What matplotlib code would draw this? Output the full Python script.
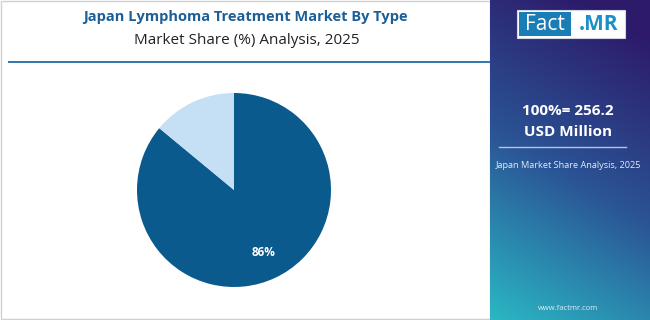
import numpy as np
import matplotlib
matplotlib.use("Agg")
from matplotlib import pyplot as plt
from matplotlib.patches import Rectangle

# Data
segments = ["Type A", "Type B"]
shares = [86, 14]
labels = ["86%", ""]
colors = ["#0b5a8e", "#c5e0f4"]

title = "Japan Lymphoma Treatment Market By Type"
subtitle = "Market Share (%) Analysis, 2025"
total_text = "100%= 256.2"
unit_text = "USD Million"
side_caption = "Japan Market Share Analysis, 2025"
site = "www.factmr.com"

W, H = 650, 320
fig = plt.figure(figsize=(W / 100, H / 100), dpi=100)
fig.patch.set_facecolor("white")

# background canvas in pixel coords
bg = fig.add_axes([0, 0, 1, 1])
bg.set_xlim(0, W)
bg.set_ylim(H, 0)
bg.axis("off")
bg.add_patch(Rectangle((0.5, 0.5), 489, 318, fill=False, edgecolor="#d0d0d0", lw=1))
bg.plot([8, 490], [62, 62], color="#1f6ea8", lw=1.3, solid_capstyle="butt")

bg.text(245, 17, title, ha="center", va="center", fontsize=10.5,
        fontweight="bold", color="#1c5f97", family="Open Sans")
bg.text(247, 41, subtitle, ha="center", va="center", fontsize=11,
        color="#222222", family="Open Sans")

# right gradient panel
side = fig.add_axes([490 / W, 0, 160 / W, 1])
side.axis("off")
ny, nx = 320, 160
yy, xx = np.mgrid[0:ny, 0:nx]
t = np.clip((yy / ny) * 0.85 + (1 - xx / nx) * 0.25 - 0.1, 0, 1)[..., None]
top = np.array([0x2d, 0x1a, 0x6a]) / 255
mid = np.array([0x2a, 0x55, 0x96]) / 255
bot = np.array([0x2b, 0xb8, 0xc4]) / 255
img = np.where(t < 0.5, top + (mid - top) * (t / 0.5), mid + (bot - mid) * ((t - 0.5) / 0.5))
side.imshow(img, aspect="auto", extent=[490, 650, 320, 0])
side.set_xlim(490, 650)
side.set_ylim(320, 0)

# logo
side.add_patch(Rectangle((517, 10), 108, 28, facecolor="white", edgecolor="#cfd8e0", lw=0.8))
side.add_patch(Rectangle((519, 12), 52, 24, facecolor="#1a7db5", edgecolor="none"))
side.text(545, 24.5, "Fact", ha="center", va="center", fontsize=15, color="white", family="Open Sans")
side.text(598, 24.5, ".MR", ha="center", va="center", fontsize=15, color="#1a8fc8",
          fontweight="bold", family="Open Sans")

side.text(568, 111, total_text, ha="center", va="center", fontsize=11,
          fontweight="bold", color="white", family="Open Sans")
side.text(568, 132, unit_text, ha="center", va="center", fontsize=11,
          fontweight="bold", color="white", family="Open Sans")
side.plot([499, 626], [147, 147], color="#b8c4dc", lw=1)
side.text(568, 166, side_caption, ha="center", va="center", fontsize=6.6,
          color="#e6ecf5", family="Open Sans")
side.text(568, 308, site, ha="center", va="center", fontsize=5.5,
          color="#e6ecf5", family="Open Sans")

# pie
ax = fig.add_axes([(234 - 97) / W, 1 - (190 + 97) / H, 194 / W, 194 / H])
wedges, texts = ax.pie(shares, labels=labels, colors=colors, startangle=90,
                       counterclock=False, labeldistance=0.71,
                       textprops=dict(color="white", fontsize=8.5, fontweight="bold",
                                      family="Open Sans"))
for tx in texts:
    tx.set_ha("center")
    tx.set_va("center")
ax.set_xlim(-1, 1)
ax.set_ylim(-1, 1)
ax.set_aspect("equal")

fig.savefig("out.png", dpi=100)
